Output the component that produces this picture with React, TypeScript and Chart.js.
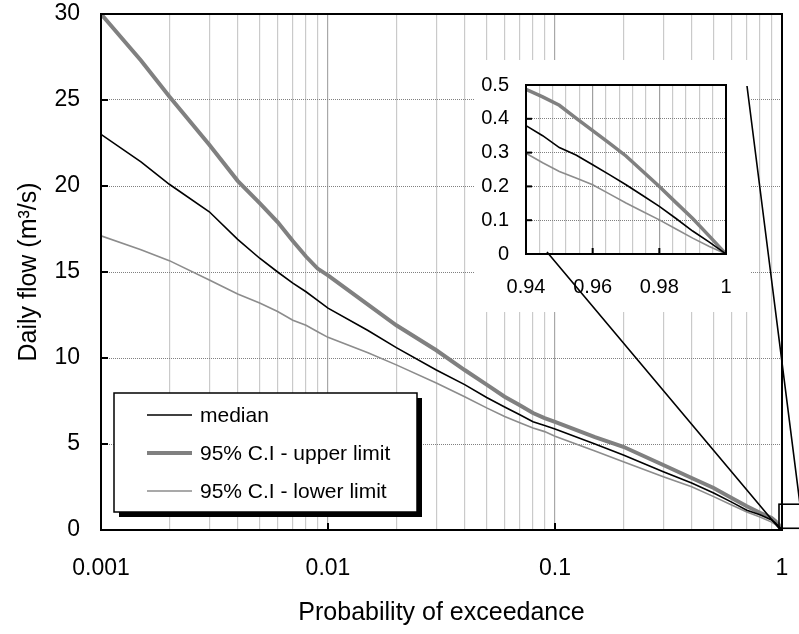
import React, { useEffect, useRef } from 'react';
import { Chart, registerables } from 'chart.js';

Chart.register(...registerables);

// ---------- data ----------
const PROBABILITY = [
  0.001, 0.0015, 0.002, 0.003, 0.004, 0.005, 0.006, 0.007, 0.008, 0.009,
  0.01, 0.015, 0.02, 0.03, 0.04, 0.05, 0.06, 0.07, 0.08, 0.09,
  0.1, 0.15, 0.2, 0.3, 0.4, 0.5, 0.6, 0.7, 0.8, 0.9,
  0.94, 0.945, 0.95, 0.955, 0.96, 0.965, 0.97, 0.975, 0.98, 0.985, 0.99, 0.995, 1,
];
const MEDIAN = [
  23.0, 21.4, 20.1, 18.5, 16.9, 15.8, 15.0, 14.35, 13.85, 13.35,
  12.9, 11.6, 10.6, 9.3, 8.45, 7.7, 7.15, 6.7, 6.3, 6.08,
  5.87, 5.0, 4.36, 3.39, 2.73, 2.15, 1.62, 1.15, 0.88, 0.58,
  0.38, 0.35, 0.315, 0.293, 0.264, 0.235, 0.205, 0.173, 0.141, 0.105, 0.068, 0.035, 0,
];
const UPPER = [
  30.0, 27.3, 25.2, 22.4, 20.3, 19.0, 17.9, 16.8, 15.9, 15.2,
  14.8, 13.1, 11.9, 10.45, 9.3, 8.45, 7.75, 7.25, 6.8, 6.5,
  6.28, 5.4, 4.84, 3.78, 3.02, 2.44, 1.86, 1.38, 1.0, 0.7,
  0.487, 0.465, 0.44, 0.402, 0.365, 0.328, 0.29, 0.245, 0.2, 0.152, 0.105, 0.053, 0,
];
const LOWER = [
  17.1, 16.3, 15.66, 14.53, 13.72, 13.2, 12.7, 12.2, 11.9, 11.53,
  11.2, 10.3, 9.6, 8.55, 7.75, 7.1, 6.6, 6.24, 5.93, 5.72,
  5.45, 4.6, 3.97, 3.1, 2.52, 1.94, 1.45, 1.05, 0.76, 0.46,
  0.298, 0.27, 0.244, 0.225, 0.205, 0.178, 0.151, 0.126, 0.101, 0.074, 0.047, 0.022, 0,
];
const SERIES_LABELS = ['median', '95% C.I - upper limit', '95% C.I - lower limit'];

const Y_TICKS = [0, 5, 10, 15, 20, 25, 30];
const X_DECADES = [0.001, 0.01, 0.1, 1];
const X_MULTIPLIERS = [1, 2, 3, 4, 5, 6, 7, 8, 9];

const INSET_X_MIN = 0.94;
const INSET_X_MAX = 1;
const INSET_X_LABELS = [0.94, 0.96, 0.98, 1];
const INSET_X_GRID = [
  0.94, 0.944, 0.948, 0.952, 0.956, 0.96, 0.964, 0.968, 0.972, 0.976,
  0.98, 0.984, 0.988, 0.992, 0.996, 1,
];
const INSET_Y_TICKS = [0, 0.1, 0.2, 0.3, 0.4, 0.5];

// region of the main chart that the inset magnifies (data units)
const ZOOM_BOX = { xMin: 0.97, xMax: 1.2, yMin: 0.1, yMax: 1.5 };

const FONT = "'Liberation Sans', Arial, Helvetica, sans-serif";

const X_GRID: number[] = [];
X_DECADES.slice(0, 3).forEach((d) =>
  X_MULTIPLIERS.forEach((m) => X_GRID.push(Number((d * m).toPrecision(6))))
);
X_GRID.push(1);

const isDecade = (v: number) => X_DECADES.some((d) => Math.abs(d - v) < 1e-12);
const isInsetLabel = (v: number) => INSET_X_LABELS.some((d) => Math.abs(d - v) < 1e-9);

const toPoints = (ys: number[], filter?: (x: number) => boolean) =>
  PROBABILITY.map((x, i) => ({ x, y: ys[i] })).filter((p) => (filter ? filter(p.x) : true));

const SERIES_STYLE = [
  { color: '#000000', width: 1.6, insetWidth: 1.6 },
  { color: '#808080', width: 4, insetWidth: 3.5 },
  { color: '#8c8c8c', width: 1.6, insetWidth: 1.6 },
];

function buildDatasets(inset: boolean) {
  const series = [MEDIAN, UPPER, LOWER];
  const filt = inset ? (x: number) => x >= INSET_X_MIN : undefined;
  return series.map((s, i) => ({
    label: SERIES_LABELS[i],
    data: toPoints(s, filt),
    borderColor: SERIES_STYLE[i].color,
    backgroundColor: SERIES_STYLE[i].color,
    borderWidth: inset ? SERIES_STYLE[i].insetWidth : SERIES_STYLE[i].width,
    pointRadius: 0,
    pointHoverRadius: 0,
    tension: 0,
    fill: false,
    order: i,
  }));
}

const HIDDEN = 'rgba(0,0,0,0)';

export default function App() {
  const mainRef = useRef<HTMLCanvasElement>(null);
  const insetRef = useRef<HTMLCanvasElement>(null);

  useEffect(() => {
    if (!mainRef.current || !insetRef.current) return;

    const mainFrame = {
      id: 'mainFrame',
      afterDatasetsDraw(chart: any) {
        const { ctx, chartArea: a, scales } = chart;
        ctx.save();
        ctx.strokeStyle = '#000';
        ctx.lineWidth = 2;
        Y_TICKS.forEach((v) => {
          const y = scales.y.getPixelForValue(v);
          ctx.beginPath();
          ctx.moveTo(a.left, y);
          ctx.lineTo(a.left + 7, y);
          ctx.stroke();
        });
        X_DECADES.forEach((v) => {
          const x = scales.x.getPixelForValue(v);
          ctx.beginPath();
          ctx.moveTo(x, a.bottom);
          ctx.lineTo(x, a.bottom - 7);
          ctx.stroke();
        });
        ctx.lineWidth = 2;
        ctx.strokeRect(a.left, a.top, a.right - a.left, a.bottom - a.top);

        // legend (with drop shadow)
        const bx = a.left + 13;
        const by = a.bottom - 137;
        const bw = 303;
        const bh = 119;
        ctx.fillStyle = '#000';
        ctx.fillRect(bx + 5, by + 5, bw, bh);
        ctx.fillStyle = '#fff';
        ctx.fillRect(bx, by, bw, bh);
        ctx.lineWidth = 1.5;
        ctx.strokeStyle = '#000';
        ctx.strokeRect(bx, by, bw, bh);
        ctx.font = `21px ${FONT}`;
        ctx.textBaseline = 'middle';
        ctx.textAlign = 'left';
        chart.data.datasets.forEach((ds: any, i: number) => {
          const y = by + 22 + i * 38;
          ctx.strokeStyle = ds.borderColor;
          ctx.lineWidth = ds.borderWidth;
          ctx.beginPath();
          ctx.moveTo(bx + 33, y);
          ctx.lineTo(bx + 78, y);
          ctx.stroke();
          ctx.fillStyle = '#000';
          ctx.fillText(ds.label, bx + 86, y + 1);
        });
        ctx.restore();
      },
    };

    const mainChart = new Chart(mainRef.current, {
      type: 'line',
      data: { datasets: buildDatasets(false) as any },
      options: {
        responsive: false,
        animation: false,
        events: [],
        layout: { autoPadding: false, padding: { left: 0, top: 14, right: 17, bottom: 0 } },
        plugins: { legend: { display: false }, tooltip: { enabled: false } },
        scales: {
          x: {
            type: 'logarithmic',
            min: 0.001,
            max: 1,
            afterBuildTicks: (s: any) => {
              s.ticks = X_GRID.map((v) => ({ value: v }));
            },
            afterFit: (s: any) => {
              s.height = 104;
            },
            ticks: {
              autoSkip: false,
              maxRotation: 0,
              minRotation: 0,
              padding: 0,
              color: '#000',
              font: { family: FONT, size: 23 },
              callback: (v: any) => (isDecade(Number(v)) ? String(Number(v)) : ''),
            },
            grid: {
              color: (c: any) => (c.tick && isDecade(c.tick.value) ? '#a8a8a8' : '#cacaca'),
              lineWidth: 1.2,
              drawTicks: true,
              tickLength: 25,
              tickColor: HIDDEN,
            },
            border: { display: false },
            title: {
              display: true,
              text: 'Probability of exceedance',
              color: '#000',
              font: { family: FONT, size: 25 },
              padding: { top: 0, bottom: 6 },
            },
          },
          y: {
            type: 'linear',
            min: 0,
            max: 30,
            afterBuildTicks: (s: any) => {
              s.ticks = Y_TICKS.map((v) => ({ value: v }));
            },
            afterFit: (s: any) => {
              s.width = 101;
            },
            ticks: {
              padding: 0,
              color: '#000',
              font: { family: FONT, size: 23 },
            },
            grid: { color: '#808080', lineWidth: 1, drawTicks: true, tickLength: 21, tickColor: HIDDEN },
            border: { display: false, dash: [1, 1] },
            title: {
              display: true,
              text: 'Daily flow (m³/s)',
              color: '#000',
              font: { family: FONT, size: 25 },
              padding: { top: 14, bottom: 0 },
            },
          },
        },
      },
      plugins: [mainFrame],
    } as any);

    const insetPlugin = {
      id: 'insetPlugin',
      beforeDraw(chart: any) {
        const { ctx, chartArea: a } = chart;
        ctx.save();
        ctx.fillStyle = '#fff';
        ctx.fillRect(a.left - 51, a.top - 25, 275, 252);
        ctx.restore();
      },
      afterDatasetsDraw(chart: any) {
        const { ctx, chartArea: a, scales } = chart;
        ctx.save();
        ctx.strokeStyle = '#000';
        ctx.lineWidth = 2;
        INSET_Y_TICKS.forEach((v) => {
          const y = scales.y.getPixelForValue(v);
          ctx.beginPath();
          ctx.moveTo(a.left, y);
          ctx.lineTo(a.left + 6, y);
          ctx.stroke();
        });
        INSET_X_LABELS.forEach((v) => {
          const x = scales.x.getPixelForValue(v);
          ctx.beginPath();
          ctx.moveTo(x, a.bottom);
          ctx.lineTo(x, a.bottom - 6);
          ctx.stroke();
        });
        ctx.strokeRect(a.left, a.top, a.right - a.left, a.bottom - a.top);
        ctx.restore();
      },
      afterDraw(chart: any) {
        const { ctx, chartArea: a } = chart;
        const mx = mainChart.scales.x;
        const my = mainChart.scales.y;
        const zl = mx.getPixelForValue(ZOOM_BOX.xMin);
        const zr = mx.getPixelForValue(ZOOM_BOX.xMax);
        const zt = my.getPixelForValue(ZOOM_BOX.yMax);
        const zb = my.getPixelForValue(ZOOM_BOX.yMin);
        ctx.save();
        ctx.strokeStyle = '#000';
        ctx.lineWidth = 1.6;
        ctx.strokeRect(zl, zt, zr - zl, zb - zt);
        ctx.beginPath();
        ctx.moveTo(a.left + 21, a.bottom - 2);
        ctx.lineTo(zl, zb);
        ctx.moveTo(a.right + 21, a.top + 1);
        ctx.lineTo(zr, zt);
        ctx.stroke();
        ctx.restore();
      },
    };

    const insetChart = new Chart(insetRef.current, {
      type: 'line',
      data: { datasets: buildDatasets(true) as any },
      options: {
        responsive: false,
        animation: false,
        events: [],
        layout: { autoPadding: false, padding: { left: 475, top: 85, right: 73, bottom: 322 } },
        plugins: { legend: { display: false }, tooltip: { enabled: false } },
        scales: {
          x: {
            type: 'linear',
            min: INSET_X_MIN,
            max: INSET_X_MAX,
            afterBuildTicks: (s: any) => {
              s.ticks = INSET_X_GRID.map((v) => ({ value: v }));
            },
            afterFit: (s: any) => {
              s.height = 58;
            },
            ticks: {
              autoSkip: false,
              maxRotation: 0,
              minRotation: 0,
              padding: 21,
              color: '#000',
              font: { family: FONT, size: 20 },
              callback: (v: any) => (isInsetLabel(Number(v)) ? String(Number(Number(v).toFixed(2))) : ''),
            },
            grid: {
              color: (c: any) => (c.tick && isInsetLabel(c.tick.value) ? '#a0a0a0' : '#cacaca'),
              lineWidth: 1.2,
              drawTicks: false,
            },
            border: { display: false },
          },
          y: {
            type: 'linear',
            min: 0,
            max: 0.5,
            afterBuildTicks: (s: any) => {
              s.ticks = INSET_Y_TICKS.map((v) => ({ value: v }));
            },
            afterFit: (s: any) => {
              s.width = 51;
            },
            ticks: {
              padding: 17,
              color: '#000',
              font: { family: FONT, size: 20 },
              callback: (v: any) => String(Math.round(Number(v) * 10) / 10),
            },
            grid: { color: '#808080', lineWidth: 1, drawTicks: false },
            border: { display: false, dash: [1, 1] },
          },
        },
      },
      plugins: [insetPlugin],
    } as any);

    return () => {
      insetChart.destroy();
      mainChart.destroy();
    };
  }, []);

  const canvasStyle: React.CSSProperties = {
    position: 'absolute',
    left: 0,
    top: 0,
    width: '799px',
    height: '634px',
    display: 'block',
  };

  return (
    <div style={{ position: 'absolute', left: 0, top: 0, width: 799, height: 634, background: '#fff' }}>
      <canvas ref={mainRef} width={799} height={634} style={canvasStyle} />
      <canvas ref={insetRef} width={799} height={634} style={canvasStyle} />
    </div>
  );
}
